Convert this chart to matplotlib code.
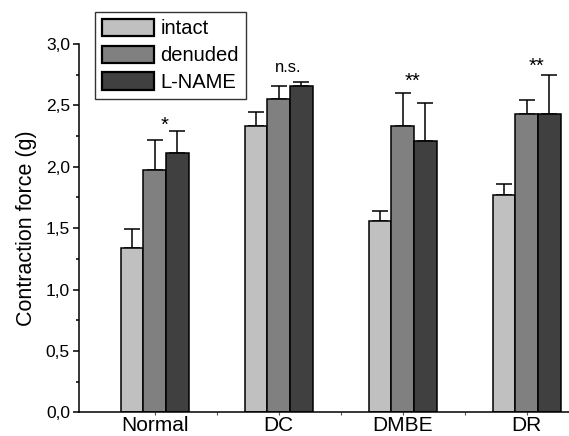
import numpy as np
import matplotlib
matplotlib.use("Agg")
import matplotlib.pyplot as plt
from matplotlib.ticker import MultipleLocator, FixedLocator

plt.rcParams["font.family"] = ["Liberation Sans", "DejaVu Sans"]

# ── data ──────────────────────────────────────
categories = ["Normal", "DC", "DMBE", "DR"]
series = ["intact", "denuded", "L-NAME"]

intact = [1.34, 2.33, 1.56, 1.77]
denuded = [1.97, 2.55, 2.33, 2.43]
lname = [2.11, 2.66, 2.21, 2.43]

intact_err = [0.15, 0.12, 0.08, 0.09]
denuded_err = [0.25, 0.11, 0.27, 0.11]
lname_err = [0.18, 0.03, 0.31, 0.32]

sig_labels = ["*", "n.s.", "**", "**"]
sig_levels = [2.34, 2.81, 2.70, 2.82]

colors = ["#c0c0c0", "#808080", "#404040"]

# ── figure ────────────────────────────────────
fig = plt.figure(figsize=(5.69, 4.36), dpi=100)
ax = fig.add_axes([79 / 569, (436 - 412.3) / 436, (569 - 79) / 569, (412.3 - 44) / 436])

x = np.arange(1, len(categories) + 1)
w = 0.183
values = [intact, denuded, lname]
errors = [intact_err, denuded_err, lname_err]

for k, (vals, errs, name) in enumerate(zip(values, errors, series)):
    xpos = x + (k - 1) * w
    ax.bar(xpos, vals, width=w, color=colors[k], edgecolor="black",
           linewidth=1.1, label=name, zorder=2)
    ax.errorbar(xpos, vals, yerr=[np.zeros(len(vals)), errs], fmt="none",
                ecolor="black", elinewidth=1.1, capsize=5.8, capthick=1.1, zorder=1)

# significance marks
for xi, lab, lev in zip(x, sig_labels, sig_levels):
    fs = 12 if lab == "n.s." else 14.5
    ax.text(xi + 0.08, lev, lab, ha="center", va="center", fontsize=fs)

ax.set_xlim(0.3895, 4.341)
ax.set_ylim(0, 3.0)
ax.set_xticks(x)
ax.set_xticklabels(categories, fontsize=15)
ax.xaxis.set_minor_locator(FixedLocator(x[:-1] + 0.5))
ax.yaxis.set_major_locator(MultipleLocator(0.5))
ax.yaxis.set_minor_locator(MultipleLocator(0.25))
ax.set_yticklabels([f"{v:.1f}".replace(".", ",") for v in ax.get_yticks()], fontsize=12.5)

ax.spines["top"].set_visible(False)
ax.spines["right"].set_visible(False)
ax.spines["left"].set_linewidth(1.1)
ax.spines["bottom"].set_linewidth(1.1)
ax.tick_params(axis="y", which="major", length=4.5, width=1.1, pad=2)
ax.tick_params(axis="y", which="minor", length=2.5, width=1.1)
ax.tick_params(axis="x", which="both", length=2.5, width=0.8, color="#555555", pad=0.5)

ax.set_ylabel("Contraction force (g)", fontsize=15.5, labelpad=6)

leg = ax.legend(loc="upper left", bbox_to_anchor=(95 / 569, 1 - 11.7 / 436),
                bbox_transform=fig.transFigure, fontsize=14.5, frameon=True,
                fancybox=False, edgecolor="black", handlelength=2.6,
                handleheight=0.95, handletextpad=0.3, labelspacing=0.36,
                borderpad=0.35, borderaxespad=0)
leg.get_frame().set_linewidth(1.0)
for h in leg.legend_handles:
    h.set_linewidth(1.6)

fig.savefig("out.png", dpi=100)
